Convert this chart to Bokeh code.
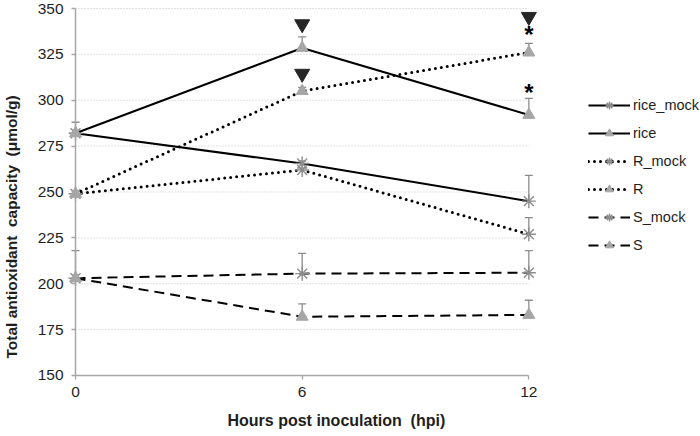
from bokeh.plotting import figure
from bokeh.models import (ColumnDataSource, Whisker, TeeHead, Legend, LegendItem,
                          FixedTicker, Range1d, Title)
from bokeh.core.properties import value
from bokeh.embed import file_html
from bokeh.resources import INLINE

# ---- data ----
hours = [0, 6, 12]
rice_mock = [282, 265.5, 245]
rice_mock_err = [0, 1.5, 14]
rice = [282, 328.5, 292]
rice_err = [6, 6, 9]
R_mock = [249, 262, 227]
R_mock_err = [0, 1, 9]
R = [249, 305, 326]
R_err = [0, 2, 5]
S_mock = [203, 205.5, 206]
S_mock_err = [15, 11, 12]
S = [203, 182, 183]
S_err = [0, 7, 8]

sig_tri_x = [6, 6, 12]
sig_tri_y = [341.5, 314.5, 345.5]
sig_star_x = [12, 12]
sig_star_y = [336, 304]

x_ticks = [0, 6, 12]
y_ticks = [150, 175, 200, 225, 250, 275, 300, 325, 350]

FONT = "Liberation Sans"
TRI_GRAY = "#a6a6a6"
AST_GRAY = "#8c8c8c"
ERR_GRAY = "#8c8c8c"
TEXT_COL = "#1e1e1e"
NB = "\u00a0"

p = figure(frame_width=532, frame_height=408, output_backend="svg",
           toolbar_location=None,
           x_range=Range1d(-1.483, 12.6), y_range=Range1d(132.0, 354.36),
           min_border_left=19, min_border_right=150, min_border_top=0,
           min_border_bottom=0)
p.outline_line_color = None
p.background_fill_color = "white"
p.xgrid.grid_line_color = None
p.ygrid.grid_line_color = None

# horizontal grid lines between the first and last hour
grid_src = ColumnDataSource(dict(x0=[hours[0]] * (len(y_ticks) - 1),
                                 x1=[hours[-1]] * (len(y_ticks) - 1),
                                 y=y_ticks[1:]))
p.segment("x0", "y", "x1", "y", source=grid_src, line_color="#c4c4c4",
          line_width=1, line_dash="1 2")

series = [
    ("rice_mock", rice_mock, rice_mock_err, "solid", "asterisk"),
    ("rice", rice, rice_err, "solid", "triangle"),
    ("R_mock", R_mock, R_mock_err, "dotted", "asterisk"),
    ("R", R, R_err, "dotted", "triangle"),
    ("S_mock", S_mock, S_mock_err, "dashed", "asterisk"),
    ("S", S, S_err, "dashed", "triangle"),
]
dash_map = {"solid": "solid", "dotted": "0 6", "dashed": "10 6"}
width_map = {"solid": 2, "dotted": 3, "dashed": 2}

items = []
for name, ys, errs, dash, marker in series:
    src = ColumnDataSource(dict(x=hours, y=ys,
                                upper=[a + b for a, b in zip(ys, errs)],
                                lower=ys))
    w = Whisker(base="x", upper="upper", lower="lower", source=src,
                line_color=ERR_GRAY, line_width=1.3,
                upper_head=TeeHead(size=8, line_color=ERR_GRAY, line_width=1.3),
                lower_head=None)
    p.add_layout(w)
    ln = p.line("x", "y", source=src, line_color="black",
                line_width=width_map[dash], line_dash=dash_map[dash],
                line_cap="round" if dash == "dotted" else "butt")
    if marker == "asterisk":
        mk = p.scatter("x", "y", source=src, marker="asterisk", size=14,
                       line_color=AST_GRAY, line_width=1.4)
    else:
        mk = p.scatter("x", "y", source=src, marker="triangle", size=12,
                       fill_color=TRI_GRAY, line_color=TRI_GRAY)
    items.append(LegendItem(label=name, renderers=[ln, mk]))

# significance marks
p.scatter(sig_tri_x, sig_tri_y, marker="inverted_triangle", size=15,
          fill_color="#262626", line_color="#262626")
p.text(sig_star_x, sig_star_y, text=["*"] * len(sig_star_x), text_align="center",
       text_baseline="middle", text_font=value(FONT), text_font_size="24px",
       text_font_style="bold", text_color="black")

legend = Legend(items=items, location=(37, 153), orientation="vertical",
                glyph_width=42, glyph_height=20, label_height=20, spacing=8,
                label_standoff=3, padding=0, margin=0, border_line_color=None,
                background_fill_alpha=0,
                label_text_font=FONT, label_text_font_size="14.5px",
                label_text_color=TEXT_COL)
p.add_layout(legend, "right")

# axes
p.xaxis.ticker = FixedTicker(ticks=x_ticks)
p.yaxis.ticker = FixedTicker(ticks=y_ticks)
p.xaxis.bounds = (x_ticks[0], x_ticks[-1])
p.yaxis.bounds = (y_ticks[0], y_ticks[-1])
p.yaxis.fixed_location = x_ticks[0]
p.xaxis.fixed_location = y_ticks[0]
for ax in (p.xaxis[0], p.yaxis[0]):
    ax.axis_line_color = "#a6a6a6"
    ax.axis_line_width = 1.5
    ax.major_tick_line_color = "#a6a6a6"
    ax.major_tick_line_width = 1.3
    ax.major_tick_in = 0
    ax.major_tick_out = 4
    ax.minor_tick_line_color = None
    ax.major_label_text_font = FONT
    ax.major_label_text_font_size = "15.5px"
    ax.major_label_text_color = TEXT_COL
p.xaxis.major_label_standoff = 8
p.yaxis.major_label_standoff = 8

ytitle = Title(text="Total antioxidant" + NB + " capacity" + NB + " (μmol/g)",
               align="left", offset=50, standoff=0, text_font=FONT,
               text_font_size="15.5px", text_font_style="bold", text_color=TEXT_COL)
p.add_layout(ytitle, "left")
xtitle = Title(text="Hours post inoculation" + NB + " (hpi)", align="left",
               offset=208, standoff=2, text_font=FONT, text_font_size="16px",
               text_font_style="bold", text_color=TEXT_COL)
p.add_layout(xtitle, "below")

open("out.html", "w").write(file_html(p, INLINE))
